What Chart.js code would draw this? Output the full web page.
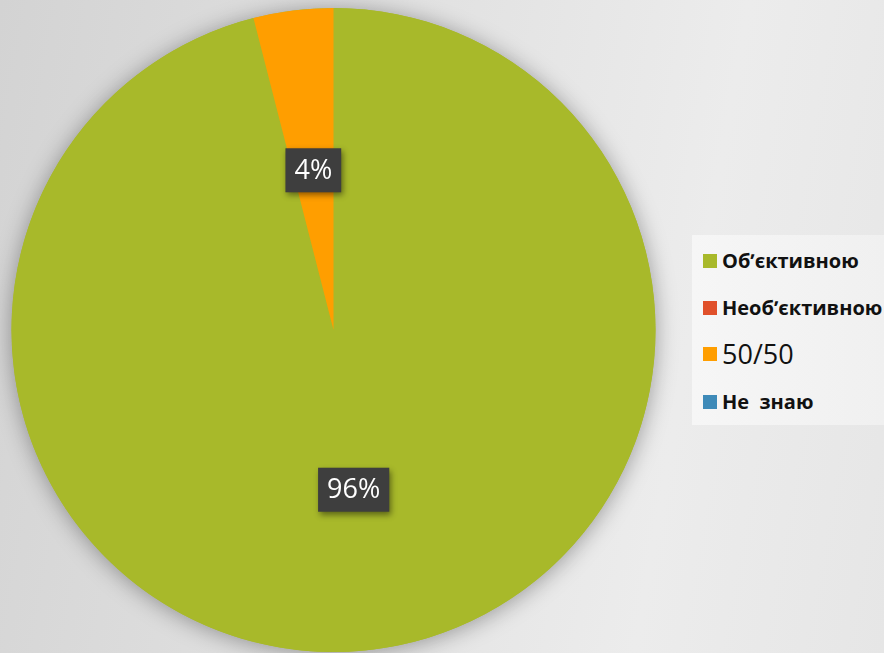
<!DOCTYPE html>
<html>
<head>
<meta charset="utf-8">
<script src="https://cdn.jsdelivr.net/npm/chart.js@4"></script>
<style>
  html, body { margin: 0; padding: 0; }
  body {
    width: 884px; height: 653px; overflow: hidden; position: relative;
    background: linear-gradient(100deg, #d3d3d3 0%, #e2e2e2 45%, #ececec 75%, #e6e6e6 100%);
  }
  #wrap { position: absolute; left: 0; top: 0; width: 884px; height: 653px; }
  #legend {
    position: absolute; left: 692px; top: 235px; width: 192px; height: 190px;
    background: linear-gradient(90deg, #f6f6f6, #f0f0f0);
    font-family: "Open Sans", "Noto Sans", sans-serif; color: #111;
  }
  .item { position: absolute; left: 11px; display: flex; align-items: center; white-space: nowrap; }
  .box { width: 14px; height: 14px; margin-right: 5px; }
</style>
</head>
<body>
<div id="wrap"><canvas id="pie" width="884" height="653"></canvas></div>
<div id="legend"></div>
<script>
var labels = ["Об\u02bcєктивною", "Необ\u02bcєктивною", "50/50", "Не  знаю"];
var values = [96, 0, 4, 0];
var colors = ["#a8b92a", "#e0502a", "#ff9e00", "#3e8ab8"];

// legend layout (centres and fonts per item)
var legendY = [26, 73, 119, 167];
var legendFont = ["bold 20px", "bold 20px", "27px", "bold 20px"];

var legend = document.getElementById("legend");
for (let i = 0; i < labels.length; i++) {
  var item = document.createElement("div");
  item.className = "item";
  item.style.top = (legendY[i] - 15) + "px";
  item.style.height = "30px";
  item.style.font = legendFont[i] + ' "Open Sans", "Noto Sans", sans-serif';
  item.style.lineHeight = "30px";
  var box = document.createElement("div");
  box.className = "box";
  box.style.background = colors[i];
  var txt = document.createElement("span");
  txt.textContent = labels[i].replace(/  /g, "\u00a0 ");
  item.appendChild(box);
  item.appendChild(txt);
  legend.appendChild(item);
}

var shadowPlugin = {
  id: "pieShadow",
  beforeDatasetsDraw: function(chart) {
    var ctx = chart.ctx;
    var arc = chart.getDatasetMeta(0).data[0];
    ctx.save();
    ctx.shadowColor = "rgba(0,0,0,0.35)";
    ctx.shadowBlur = 22;
    ctx.shadowOffsetX = 0;
    ctx.shadowOffsetY = 2;
    ctx.fillStyle = "#a8b92a";
    ctx.beginPath();
    ctx.arc(arc.x, arc.y, arc.outerRadius, 0, Math.PI * 2);
    ctx.fill();
    ctx.restore();
  }
};

var labelPlugin = {
  id: "pctLabels",
  afterDatasetsDraw: function(chart) {
    var ctx = chart.ctx;
    var total = values.reduce(function(a, b) { return a + b; }, 0);
    chart.getDatasetMeta(0).data.forEach(function(arc, i) {
      if (!values[i]) return;
      var pos = arc.tooltipPosition();
      var text = Math.round(values[i] / total * 100) + "%";
      ctx.save();
      ctx.font = '27px "Open Sans", "Noto Sans", sans-serif';
      var w = ctx.measureText(text).width + 18;
      var h = 44;
      ctx.shadowColor = "rgba(0,0,0,0.45)";
      ctx.shadowBlur = 6;
      ctx.shadowOffsetX = 2;
      ctx.shadowOffsetY = 3;
      ctx.fillStyle = "#3e3e3e";
      ctx.fillRect(pos.x - w / 2, pos.y - h / 2, w, h);
      ctx.shadowColor = "transparent";
      ctx.fillStyle = "#ffffff";
      ctx.textAlign = "center";
      ctx.textBaseline = "middle";
      ctx.fillText(text, pos.x, pos.y + 1);
      ctx.restore();
    });
  }
};

var chart = new Chart(document.getElementById("pie"), {
  type: "pie",
  data: {
    labels: labels,
    datasets: [{
      data: values,
      backgroundColor: colors,
      borderWidth: 0
    }]
  },
  options: {
    responsive: false,
    animation: false,
    layout: { padding: { left: 11, top: 8, right: 228, bottom: 1 } },
    plugins: {
      legend: { display: false },
      tooltip: { enabled: false }
    }
  },
  plugins: [shadowPlugin, labelPlugin]
});
</script>
</body>
</html>
